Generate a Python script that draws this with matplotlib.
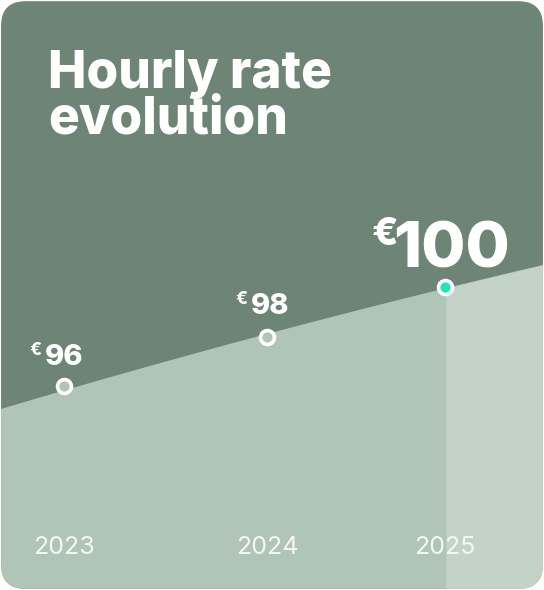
import numpy as np
import matplotlib
matplotlib.use("Agg")
import matplotlib.pyplot as plt
from matplotlib.patches import FancyBboxPatch

years = [2023, 2024, 2025]
rates = [96, 98, 100]
year_labels = ["2023", "2024", "2025"]
# horizontal layout positions of the year points (pixels)
x_pos = [64, 267, 445]
# estimated curve edge values (left and right edges of card)
edge_x = [0, 544]
edge_y = [94.95, 100.89]

DARK = "#6e8476"
LIGHT = "#b1c4b8"
LIGHTER = "#c4d3c8"

fig = plt.figure(figsize=(5.44, 5.90), dpi=100, facecolor="white")
ax = fig.add_axes([0, 0, 1, 1])
ax.set_xlim(0, 544)
ax.set_ylim(87.76, 111.6)
ax.axis("off")
PX = 24.75  # pixels per unit

card = FancyBboxPatch((0.002, 0.002), 0.996, 0.996, boxstyle="round,pad=0,rounding_size=0.045",
                      transform=fig.transFigure, facecolor=DARK, edgecolor="none",
                      mutation_aspect=544/590)
ax.add_patch(card)

xs = np.array([edge_x[0]] + x_pos + [edge_x[1]], dtype=float)
ys = np.array([edge_y[0]] + rates + [edge_y[1]], dtype=float)
coef = np.polyfit(xs, ys, 2)
xx = np.linspace(edge_x[0], edge_x[1], 400)
yy = np.polyval(coef, xx)
f1 = ax.fill_between(xx, 80, yy, color=LIGHT, lw=0)
f1.set_clip_path(card)
m = xx >= x_pos[2]
f2 = ax.fill_between(xx[m], 80, yy[m], color=LIGHTER, lw=0)
f2.set_clip_path(card)

for i, (x, y) in enumerate(zip(x_pos, rates)):
    face = "#1de9b6" if i == 2 else LIGHT
    ax.plot([x], [y], "o", ms=10, mfc=face, mec="white", mew=2.6, zorder=5)
    ax.text(x, 87.76 + 43/PX, year_labels[i], ha="center", va="center",
            color="#f4f7f5", fontsize=18, family="Inter", zorder=6)

# value labels: (center x offset px, baseline offset px, fontsize, euro x px, euro raise px)
cfg = [(0, 21, 21, -24, 10), (3, 23, 21, -24, 10), (7, 20, 46, -58, 22)]
for i, (x, y) in enumerate(zip(x_pos, rates)):
    dx, db, fs, ex, er = cfg[i]
    ax.text(x + dx, y + db/PX, f"{y}", ha="center", va="baseline",
            color="white", fontsize=fs, fontweight="heavy", family="Inter", zorder=6)
    ax.text(x + dx + ex + (4 if fs > 30 else 2), y + (db + er)/PX, "€", ha="right", va="baseline",
            color="white", fontsize=fs * 0.6, fontweight="heavy", family="Inter", zorder=6)

fig.text(48/544, 1 - 88/590, "Hourly rate", color="white", fontsize=37, fontweight="heavy",
         family="Inter", va="baseline")
fig.text(48/544, 1 - 133/590, "evolution", color="white", fontsize=37, fontweight="heavy",
         family="Inter", va="baseline")

fig.savefig("out.png", dpi=100, facecolor="white")
